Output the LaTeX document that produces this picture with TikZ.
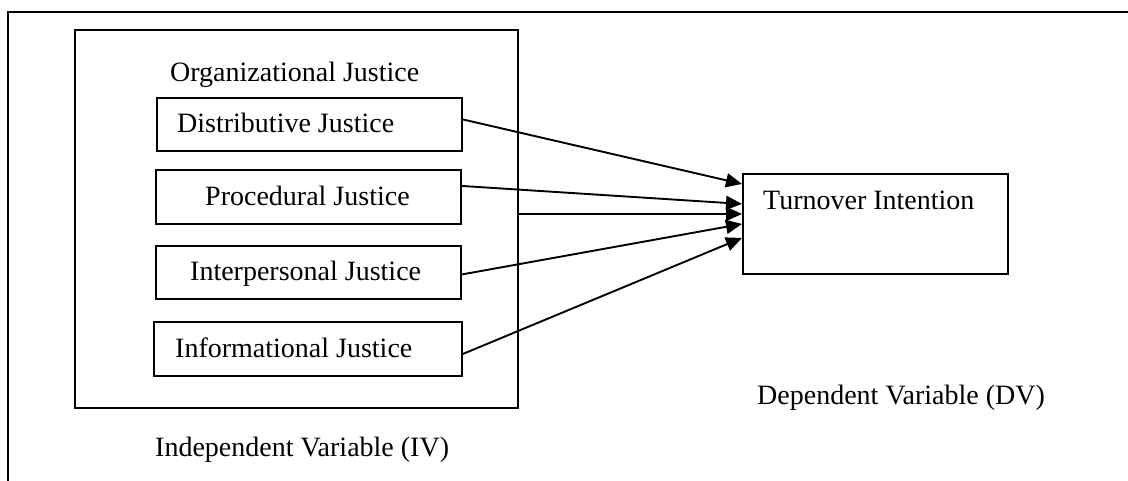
\documentclass[tikz,border=0pt]{standalone}
\usepackage{fontspec}
\setmainfont{Liberation Serif}
\usetikzlibrary{arrows.meta}
\begin{document}
\begin{tikzpicture}[x=1pt,y=-1pt,
  box/.style={draw,line width=1.9pt,rectangle,inner sep=0pt,anchor=north west},
  lbl/.style={anchor=base west,inner sep=0pt,font=\fontsize{28}{32}\selectfont},
  arr/.style={line width=1.9pt,-{Triangle[length=16pt,width=14pt]}}]
\useasboundingbox (0,0) rectangle (1128,481);
% outer frame (top and left only)
\coordinate (ftl) at (8,12);
\coordinate (ftr) at (1128,12);
\coordinate (fbl) at (8,481);
\draw[line width=2.4pt] (ftr) -- (ftl) -- (fbl);
% inner IV box
\node[box,minimum width=443pt,minimum height=378pt] (iv) at (74,29) {};
\node[lbl] (org) at (170,82) {Organizational Justice};
% boxes
\node[box,minimum width=305pt,minimum height=53pt] (dbox) at (156,97) {};
\node[lbl] (dtxt) at (177,133) {Distributive Justice};
\node[box,minimum width=305pt,minimum height=54pt] (pbox) at (155,169) {};
\node[lbl] (ptxt) at (205,206) {Procedural Justice};
\node[box,minimum width=305pt,minimum height=53pt] (ibox) at (155,245) {};
\node[lbl] (itxt) at (190,281) {Interpersonal Justice};
\node[box,minimum width=308pt,minimum height=54pt] (fbox) at (153,321) {};
\node[lbl] (ftxt) at (175,357) {Informational Justice};
% turnover
\node[box,minimum width=265pt,minimum height=100pt] (turn) at (742,173) {};
\node[lbl] (ttxt) at (763,210) {Turnover Intention};
% labels
\node[lbl] (ivl) at (155,456) {Independent Variable (IV)};
\node[lbl] (dvl) at (757,404) {Dependent Variable (DV)};
% arrows
\draw[arr] ([yshift=5pt]dbox.east) -- ([yshift=40pt]turn.west);
\draw[arr] ([yshift=11pt]pbox.east) -- ([yshift=20pt]turn.west);
\draw[arr] ([yshift=5pt]iv.east) -- ([yshift=10pt]turn.west);
\draw[arr] ([yshift=-2pt]ibox.east) -- (turn.west);
\draw[arr] ([yshift=-5pt]fbox.east) -- ([yshift=-14pt]turn.west);
\end{tikzpicture}
\end{document}
